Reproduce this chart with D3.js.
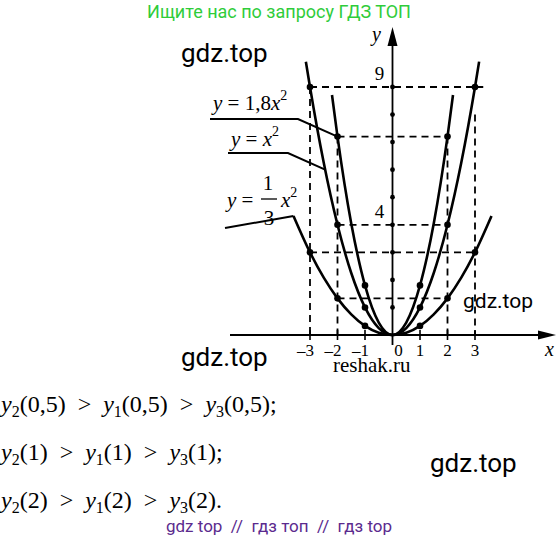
<!DOCTYPE html>
<html>
<head>
  <meta charset="utf-8">
  <title>y = kx^2</title>
  <script src="https://d3js.org/d3.v7.min.js"></script>
  <style>
    body { margin: 0; background: #fff; }
    svg { display: block; }
    .curve { fill: none; stroke: #000; stroke-width: 2.6px; }
    .guide { stroke: #000; stroke-width: 1.8px; stroke-dasharray: 7,5; }
    .lbl { font-family: "Liberation Serif", serif; }
    .wm { font-family: Roboto, "Open Sans", sans-serif; white-space: pre; }
  </style>
</head>
<body>
  <svg width="558" height="541"></svg>
  <script>
    // values: y = 1.8x^2, y = x^2, y = x^2/3
    const xs18 = [-2.2, -2, -1.5, -1, -0.5, 0, 0.5, 1, 1.5, 2, 2.2];
    const ys18 = [8.71, 7.2, 4.05, 1.8, 0.45, 0, 0.45, 1.8, 4.05, 7.2, 8.71];
    const xsSq = [-3.15, -3, -2.5, -2, -1.5, -1, -0.5, 0, 0.5, 1, 1.5, 2, 2.5, 3, 3.15];
    const ysSq = [9.92, 9, 6.25, 4, 2.25, 1, 0.25, 0, 0.25, 1, 2.25, 4, 6.25, 9, 9.92];
    const xsThird = [-3.6, -3, -2.5, -2, -1.5, -1, -0.5, 0, 0.5, 1, 1.5, 2, 2.5, 3, 3.6];
    const ysThird = [4.32, 3, 2.08, 1.33, 0.75, 0.33, 0.08, 0, 0.08, 0.33, 0.75, 1.33, 2.08, 3, 4.32];

    // marked points on each curve
    const dots18 = [-2, -1, 1, 2];
    const dotsSq = [-3, -2, -1, 1, 2, 3];
    const dotsThird = [-3, -2, -1, 1, 2, 3];

    const xTicks = [-3, -2, -1, 0, 1, 2, 3];
    const xTickLabels = ["\u20133", "\u20132", "\u20131", "0", "1", "2", "3"];
    const yTicks = [1, 2, 3, 4, 5, 6, 7, 8, 9];
    const yLabels = [4, 9];

    // dashed helper lines
    const hGuides = [[9, -3, 3.3], [7.2, -2, 2.05], [4, -2, 2], [3, -3, 3], [1.33, -2, 2]];
    const vGuides = [[-3, 9], [-2, 7.2], [2, 7.2], [3, 8]];

    const results = [
      ["0,5", "0,5", "0,5", ";"],
      ["1", "1", "1", ";"],
      ["2", "2", "2", "."]
    ];

    const svg = d3.select("svg");

    const x = d3.scaleLinear().domain([-3, 3]).range([310, 475]);
    const y = d3.scaleLinear().domain([0, 9]).range([335, 87]);

    const line = d3.line()
      .x(d => x(d[0]))
      .y(d => y(d[1]))
      .curve(d3.curveMonotoneX);

    // guides
    svg.append("g").selectAll("line.h")
      .data(hGuides)
      .join("line")
      .attr("class", "guide")
      .attr("x1", d => x(d[1])).attr("x2", d => x(d[2]))
      .attr("y1", d => y(d[0])).attr("y2", d => y(d[0]));

    svg.append("g").selectAll("line.v")
      .data(vGuides)
      .join("line")
      .attr("class", "guide")
      .attr("x1", d => x(d[0])).attr("x2", d => x(d[0]))
      .attr("y1", d => y(d[1])).attr("y2", y(0));

    // axes
    const axis = svg.append("g").attr("stroke", "#000").attr("stroke-width", 1.8);
    axis.append("line").attr("x1", 230).attr("x2", 550).attr("y1", y(0)).attr("y2", y(0));
    axis.append("line").attr("x1", x(0)).attr("x2", x(0)).attr("y1", 345).attr("y2", 40);
    svg.append("path")
      .attr("d", `M${x(0)},27 L${x(0) - 5},46 L${x(0) + 5},46 Z`)
      .attr("fill", "#000");
    svg.append("path")
      .attr("d", `M556,${y(0)} L538,${y(0) - 4.5} L538,${y(0) + 4.5} Z`)
      .attr("fill", "#000");

    svg.append("g").selectAll("line")
      .data(xTicks.filter(d => d !== 0))
      .join("line")
      .attr("stroke", "#000").attr("stroke-width", 1.6)
      .attr("x1", d => x(d)).attr("x2", d => x(d))
      .attr("y1", y(0) - 5).attr("y2", y(0) + 5);

    svg.append("g").selectAll("circle")
      .data(yTicks)
      .join("circle")
      .attr("cx", x(0)).attr("cy", d => y(d)).attr("r", 2.4)
      .attr("fill", "#000");

    svg.append("g").selectAll("text")
      .data(xTicks)
      .join("text")
      .attr("class", "lbl")
      .attr("font-size", 17)
      .attr("text-anchor", d => d < 0 ? "end" : "middle")
      .attr("x", d => d < 0 ? x(d) + 4 : x(d) + (d === 0 ? 6 : 0))
      .attr("y", 356)
      .text((d, i) => xTickLabels[i]);

    svg.append("g").selectAll("text")
      .data(yLabels)
      .join("text")
      .attr("class", "lbl")
      .attr("font-size", 19)
      .attr("text-anchor", "middle")
      .attr("x", x(0) - 13)
      .attr("y", d => y(d) - 7)
      .text(d => d);

    svg.append("text").attr("class", "lbl").attr("font-size", 20).attr("font-style", "italic")
      .attr("x", 372).attr("y", 41).text("y");
    svg.append("text").attr("class", "lbl").attr("font-size", 20).attr("font-style", "italic")
      .attr("x", 545).attr("y", 356).text("x");

    // curves
    const series = [
      [xs18, ys18, dots18],
      [xsSq, ysSq, dotsSq],
      [xsThird, ysThird, dotsThird]
    ];
    series.forEach(([xs, ys, dots]) => {
      const pts = xs.map((v, i) => [v, ys[i]]);
      svg.append("path").attr("class", "curve").attr("d", line(pts));
      svg.append("g").selectAll("circle")
        .data(pts.filter(p => dots.includes(p[0])))
        .join("circle")
        .attr("cx", d => x(d[0])).attr("cy", d => y(d[1])).attr("r", 3.3)
        .attr("fill", "#000");
    });

    // curve labels with leader lines
    const leader = svg.append("g").attr("fill", "none").attr("stroke", "#000").attr("stroke-width", 2);
    leader.append("path").attr("d", `M210,119 L298,119 L${x(-2)},${y(7.2)}`);
    leader.append("path").attr("d", `M228,153 L288,153 L${x(-2.45)},${y(6)}`);
    leader.append("path").attr("d", `M225,228 L${x(-3.6)},${y(4.32)}`);

    const lab = svg.append("g").attr("class", "lbl").attr("font-size", 21);
    const t1 = lab.append("text").attr("x", 213).attr("y", 110);
    t1.append("tspan").attr("font-style", "italic").text("y");
    t1.append("tspan").text(" = 1,8");
    t1.append("tspan").attr("font-style", "italic").text("x");
    t1.append("tspan").attr("font-size", 14).attr("dy", -10).text("2");

    const t2 = lab.append("text").attr("x", 231).attr("y", 146);
    t2.append("tspan").attr("font-style", "italic").text("y");
    t2.append("tspan").text(" = ");
    t2.append("tspan").attr("font-style", "italic").text("x");
    t2.append("tspan").attr("font-size", 14).attr("dy", -10).text("2");

    const t3 = lab.append("text").attr("x", 227).attr("y", 207);
    t3.append("tspan").attr("font-style", "italic").text("y");
    t3.append("tspan").text(" =");
    lab.append("text").attr("x", 268).attr("y", 190).attr("text-anchor", "middle").text("1");
    lab.append("text").attr("x", 269).attr("y", 225).attr("text-anchor", "middle").text("3");
    lab.append("line").attr("x1", 261).attr("x2", 277).attr("y1", 199).attr("y2", 199)
      .attr("stroke", "#000").attr("stroke-width", 1.3);
    const t4 = lab.append("text").attr("x", 281).attr("y", 207);
    t4.append("tspan").attr("font-style", "italic").text("x");
    t4.append("tspan").attr("font-size", 14).attr("dy", -10).text("2");

    // inequalities
    const rows = svg.append("g").attr("class", "lbl").attr("font-size", 24);
    results.forEach((r, i) => {
      const t = rows.append("text").attr("x", 1).attr("y", 412 + i * 48);
      [[2, r[0]], [1, r[1]], [3, r[2]]].forEach(([n, a], j) => {
        t.append("tspan").attr("font-style", "italic").text("y");
        t.append("tspan").attr("font-size", 16).attr("dy", 5).text(n);
        t.append("tspan").attr("dy", -5)
          .text("(" + a + ")" + (j < 2 ? "\u2002>\u2002" : r[3]));
      });
    });

    // page captions
    svg.append("text").attr("class", "wm").attr("font-size", 18).style("fill", "#2fcc3a")
      .attr("text-anchor", "middle").attr("x", 279).attr("y", 18)
      .text("Ищите нас по запросу ГДЗ ТОП");
    svg.append("text").attr("class", "wm").attr("font-size", 26).attr("x", 181).attr("y", 62).text("gdz.top");
    svg.append("text").attr("class", "wm").attr("font-size", 26).attr("x", 181).attr("y", 366).text("gdz.top");
    svg.append("text").attr("class", "wm").attr("font-size", 26).attr("x", 430).attr("y", 472).text("gdz.top");
    svg.append("text").attr("class", "wm").attr("font-size", 21).attr("x", 463).attr("y", 308).text("gdz.top");
    svg.append("text").attr("class", "lbl").attr("font-size", 21).attr("x", 333).attr("y", 372).text("reshak.ru");
    svg.append("text").attr("class", "wm").attr("font-size", 17).style("fill", "#5b2a8e")
      .attr("text-anchor", "middle").attr("x", 279).attr("y", 532)
      .text("gdz top  //  гдз топ  //  гдз top");
  </script>
</body>
</html>
